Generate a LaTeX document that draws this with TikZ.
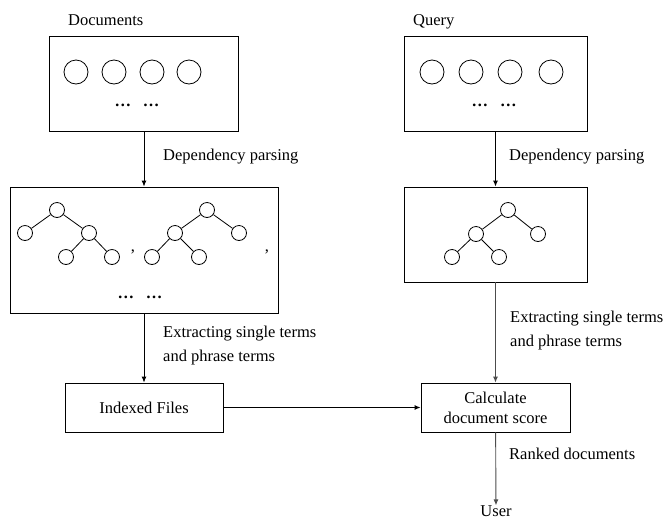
\documentclass[tikz,border=0pt]{standalone}
\usepackage{fontspec}
\setmainfont{Liberation Serif}
\usetikzlibrary{arrows.meta}

\begin{document}
\begin{tikzpicture}[x=1pt, y=-1pt, every node/.style={font=\fontsize{16.5}{20}\selectfont},
	box/.style={draw, line width=0.9pt, inner sep=0pt},
	term/.style={draw, circle, line width=0.8pt, minimum size=24pt, inner sep=0pt},
	leaf/.style={draw, circle, line width=0.8pt, minimum size=15pt, inner sep=0pt},
	lbl/.style={inner sep=0pt},
	flow/.style={-{Latex[length=6pt,width=5pt]}, line width=0.9pt}]
	\useasboundingbox (0,0) rectangle (663,520);
	% documents and query
	\node[box, minimum width=189pt, minimum height=95pt] (docs) at (144,83.5) {};
	\node[box, minimum width=183pt, minimum height=95pt] (query) at (495.5,83.5) {};
	\node[lbl, anchor=base west] (docslbl) at (68,25.5) {Documents};
	\node[lbl, anchor=base west] (querylbl) at (413,25.5) {Query};
	\foreach \x [count=\i] in {76,114,152,189} \node[term] (d\i) at (\x,72) {};
	\foreach \x [count=\i] in {432,471,510,551} \node[term] (q\i) at (\x,72) {};
	\node[lbl] (ddots) at (137,105) {\textbf{\dots}\hspace{12pt}\textbf{\dots}};
	\node[lbl] (qdots) at (494,105) {\textbf{\dots}\hspace{12pt}\textbf{\dots}};
	
	% parse trees
	\node[box, minimum width=268pt, minimum height=126pt] (dtrees) at (144,250) {};
	\node[box, minimum width=183pt, minimum height=95pt] (qtree) at (495.5,234.5) {};
	\node[leaf] (a1) at (57,210) {};
	\node[leaf] (a2) at (25,233) {};
	\node[leaf] (a3) at (89,233) {};
	\node[leaf] (a4) at (66,257) {};
	\node[leaf] (a5) at (112,257) {};
	\node[leaf] (b1) at (207,210) {};
	\node[leaf] (b2) at (175,233) {};
	\node[leaf] (b3) at (239,233) {};
	\node[leaf] (b4) at (152,257) {};
	\node[leaf] (b5) at (199,257) {};
	\node[leaf] (c1) at (508,210) {};
	\node[leaf] (c2) at (476,234) {};
	\node[leaf] (c3) at (538,234) {};
	\node[leaf] (c4) at (452,257) {};
	\node[leaf] (c5) at (499,257) {};
	\draw[line width=0.8pt] (a1) -- (a2) (a1) -- (a3) (a3) -- (a4) (a3) -- (a5);
	\draw[line width=0.8pt] (b1) -- (b2) (b1) -- (b3) (b2) -- (b4) (b2) -- (b5);
	\draw[line width=0.8pt] (c1) -- (c2) (c1) -- (c3) (c2) -- (c4) (c2) -- (c5);
	\node[lbl] (comma1) at (133,252) {,};
	\node[lbl] (comma2) at (267,252) {,};
	\node[lbl] (tdots) at (140,297) {\textbf{\dots}\hspace{12pt}\textbf{\dots}};
	
	% index and scoring
	\node[box, minimum width=158pt, minimum height=49pt] (index) at (144,407.5) {Indexed Files};
	\node[box, minimum width=149pt, minimum height=49pt, align=center] (score) at (495.5,407.5) {Calculate\\document score};
	\node[lbl] (user) at (496,511) {User};
	
	\draw[flow] (docs) -- (dtrees);
	\draw[flow] (query) -- (qtree);
	\draw[flow] (dtrees) -- (index);
	\draw[flow, black!70] (qtree) -- (score);
	\draw[flow] (index) -- (score);
	\draw[flow, black!70] (score) -- (user);
	
	\node[lbl, anchor=west] (parse1) at (163,157) {Dependency parsing};
	\node[lbl, anchor=west] (parse2) at (509,157) {Dependency parsing};
	\node[lbl, anchor=west, align=left] (extract1) at (163,346) {Extracting single terms\\[4pt]and phrase terms};
	\node[lbl, anchor=west, align=left] (extract2) at (510,331) {Extracting single terms\\[4pt]and phrase terms};
	\node[lbl, anchor=west] (ranked) at (509,454) {Ranked documents};
\end{tikzpicture}
\end{document}
